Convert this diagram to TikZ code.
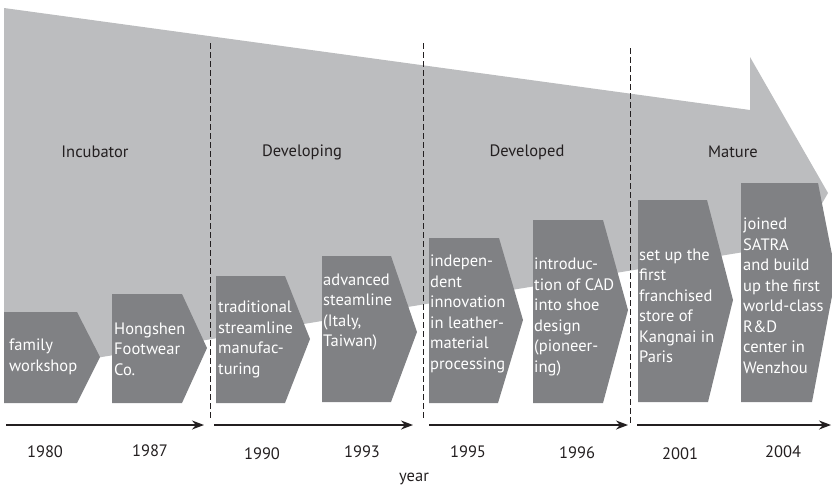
\documentclass[tikz,border=0pt]{standalone}
\usepackage{fontspec}
\setmainfont{PT Sans}
\usetikzlibrary{arrows.meta,calc}
\definecolor{lightgrey}{HTML}{BCBDBF}
\definecolor{darkgrey}{HTML}{808184}
\definecolor{inkgrey}{HTML}{231F20}
\tikzset{
  phase/.style={text=inkgrey, font=\fontsize{16.5}{18}\selectfont},
  yearlbl/.style={text=inkgrey, font=\fontsize{16.5}{18}\selectfont},
  boxtext/.style={text=white, anchor=west, align=left, inner sep=0pt, font=\fontsize{16.5}{20.5}\selectfont},
  shoebox/.style={fill=darkgrey},
  divider/.style={draw=inkgrey, line width=1pt, dash pattern=on 6pt off 3pt},
  timeline/.style={draw=inkgrey, line width=1.3pt, -{Stealth[length=12pt,width=9pt]}}
}
\begin{document}
\begin{tikzpicture}[x=1pt,y=-1pt]
    \clip (0,0) rectangle (832,490);

    %big arrow
    \fill[lightgrey] (4,8) -- (750,110) -- (750,57) -- (828,193) -- (750,329) -- (750,251) -- (4,373) -- cycle;

    %coordinates
    \coordinate (d1top) at (210,43);
    \coordinate (d1bot) at (210,420);
    \coordinate (d2top) at (423,43);
    \coordinate (d2bot) at (423,420);
    \coordinate (d3top) at (630,48);
    \coordinate (d3bot) at (630,425);

    \coordinate (t1s) at (6,425);
    \coordinate (t1e) at (204,425);
    \coordinate (t2s) at (214,425);
    \coordinate (t2e) at (413,425);
    \coordinate (t3s) at (429,425);
    \coordinate (t3e) at (628,425);
    \coordinate (t4s) at (637,425);
    \coordinate (t4e) at (831,425);

    %dividers
    \draw[divider] (d1top) -- (d1bot);
    \draw[divider] (d2top) -- (d2bot);
    \draw[divider] (d3top) -- (d3bot);

    %phases
    \node[phase] (incubator) at (95,152) {Incubator};
    \node[phase] (developing) at (302,152) {Developing};
    \node[phase] (developed) at (527,152) {Developed};
    \node[phase] (mature) at (733,152) {Mature};

    %boxes
    \fill[shoebox] (4,312) -- (77,312) -- (100,357) -- (77,403) -- (4,403) -- cycle;
    \fill[shoebox] (112,294) -- (182,294) -- (207,348) -- (182,403) -- (112,403) -- cycle;
    \fill[shoebox] (216,276) -- (285,276) -- (310,339) -- (285,403) -- (216,403) -- cycle;
    \fill[shoebox] (322,256) -- (391,256) -- (417,332) -- (391,402) -- (322,402) -- cycle;
    \fill[shoebox] (429,238) -- (499,238) -- (523,320) -- (498,403) -- (429,403) -- cycle;
    \fill[shoebox] (533,220) -- (603,220) -- (628,310) -- (603,403) -- (533,403) -- cycle;
    \fill[shoebox] (638,200) -- (707,200) -- (733,300) -- (708,402) -- (638,402) -- cycle;
    \fill[shoebox] (741,183) -- (818,183) -- (836,275) -- (812,402) -- (741,402) -- cycle;

    \node[boxtext] (b1) at (9,357) {family\\workshop};
    \node[boxtext] (b2) at (114,349) {Hongshen\\Footwear\\Co.};
    \node[boxtext] (b3) at (218,339.5) {traditional\\streamline\\manufac-\\turing};
    \node[boxtext] (b4) at (323,312) {advanced\\steamline\\(Italy,\\Taiwan)};
    \node[boxtext] (b5) at (430,314) {indepen-\\dent\\innovation\\in leather-\\material\\processing};
    \node[boxtext] (b6) at (534,317) {introduc-\\tion of CAD\\into shoe\\design\\(pioneer-\\ing)};
    \node[boxtext] (b7) at (639,306) {set up the\\first\\franchised\\store of\\Kangnai in\\Paris};
    \node[boxtext] (b8) at (743,296) {joined\\SATRA\\and build\\up the first\\world-class\\R\&D\\center in\\Wenzhou};

    %timeline
    \draw[timeline] (t1s) -- (t1e);
    \draw[timeline] (t2s) -- (t2e);
    \draw[timeline] (t3s) -- (t3e);
    \draw[timeline] (t4s) -- (t4e);

    \node[yearlbl] (y1980) at (45,452) {1980};
    \node[yearlbl] (y1987) at (150,451) {1987};
    \node[yearlbl] (y1990) at (262,454) {1990};
    \node[yearlbl] (y1993) at (362,452) {1993};
    \node[yearlbl] (y1995) at (468,452) {1995};
    \node[yearlbl] (y1996) at (577,453) {1996};
    \node[yearlbl] (y2001) at (680,454) {2001};
    \node[yearlbl] (y2004) at (783,452) {2004};
    \node[yearlbl] (yr) at (414,479) {year};
\end{tikzpicture}
\end{document}
